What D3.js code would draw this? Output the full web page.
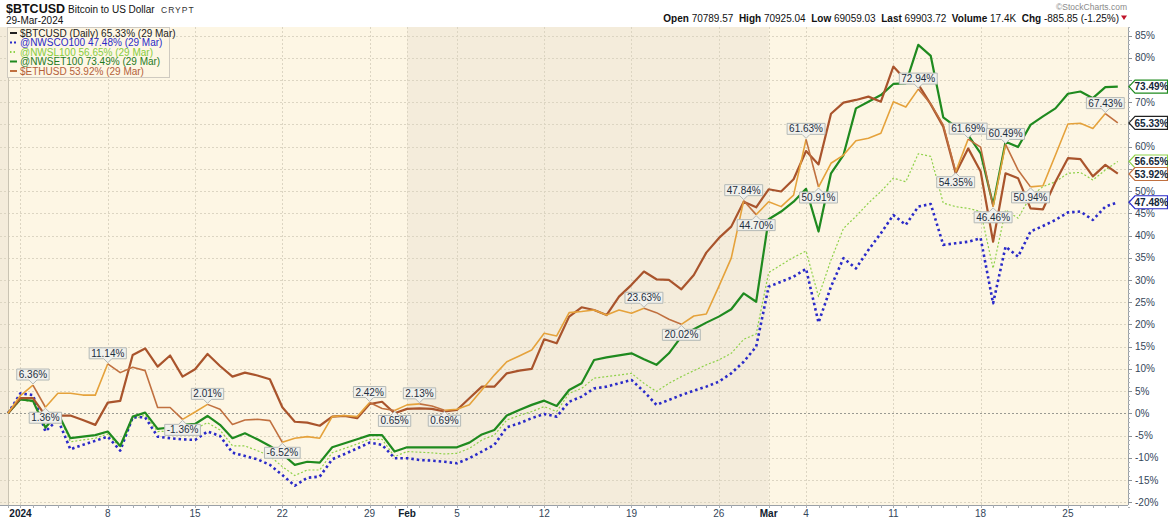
<!DOCTYPE html>
<html>
<head>
<meta charset="utf-8">
<script src="https://cdn.jsdelivr.net/npm/d3@7"></script>
<style>
  body { margin: 0; background: #ffffff; }
  svg { display: block; font-family: "Liberation Sans", Arial, sans-serif; }
</style>
</head>
<body>
<div id="d3chart"></div>
<script>
// ---- data (percent change since 31-Dec-2023, one value per calendar day) ----
const startDay = '2023-12-31'

const btcusd = [0, 4.0, 6.36, 1.36, 4.5, 4.5, 4.1, 4.1, 11.14, 9.15,
  10.35, 9.6, 1.3, 1.3, -1.36, 0.3, 2.01, 0.9, -2.5, -1.5,
  -1.35, -1.65, -6.52, -5.6, -5.25, -5.6, -0.75, -0.5, -0.75, 2.42,
  1.1, 0.65, 1.9, 2.13, 1.65, 0.69, 0.9, 1.9, 5.25, 8.6,
  11.6, 12.9, 14.25, 18.0, 17.4, 22.65, 22.9, 23.25, 22.1, 23.25,
  22.5, 23.63, 22.65, 21.15, 20.02, 21.9, 22.35, 28.5, 34.9, 47.84,
  44.70, 47.6, 46.5, 49.1, 61.63, 50.91, 56.25, 58.1, 61.3, 61.9,
  63.0, 70.1, 68.9, 72.94, 69.6, 64.9, 54.35, 61.69, 59.9, 46.46,
  60.49, 54.75, 50.94, 51.2, 58.1, 65.1, 65.25, 64.1, 67.43, 65.33]

const ethusd = [0, 3.4, 3.4, -0.5, -0.5, -0.5, -1.5, -2.6, 2.4, 2.8,
  13.1, 14.6, 10.5, 13.0, 8.25, 9.9, 13.35, 10.65, 8.25, 9.15,
  8.5, 7.65, 1.35, -1.9, -2.1, -2.8, -0.75, -0.6, -1.1, 2.1,
  2.6, 0.0, 1.0, 1.1, 1.0, 0.4, 0.75, 3.4, 6.0, 6.0,
  9.0, 9.6, 10.0, 16.65, 15.75, 21.75, 23.85, 23.25, 22.1, 26.25,
  28.9, 31.9, 30.15, 30.0, 27.9, 31.1, 36.15, 39.4, 42.0, 47.6,
  46.35, 50.4, 49.9, 52.65, 59.0, 56.0, 67.4, 69.9, 70.5, 71.25,
  70.1, 78.0, 75.0, 74.0, 69.5, 64.5, 54.0, 59.6, 54.4, 38.6,
  54.0, 52.9, 46.1, 45.9, 52.1, 57.4, 57.2, 53.3, 55.9, 53.92]

const nwset100 = [0, 3.15, 2.8, -3.2, 0, -5.6, -5.25, -4.9, -4.1, -7.35,
  -0.75, 0.15, -3.5, -3.2, -2.6, -2.4, -0.6, -2.6, -5.6, -4.5,
  -5.85, -7.35, -9.15, -11.6, -10.9, -11.1, -7.65, -6.75, -5.85, -4.9,
  -4.9, -8.6, -7.65, -7.65, -7.65, -7.65, -7.65, -6.6, -4.75, -3.75,
  -0.5, 0.75, 1.9, 2.85, 1.65, 5.25, 6.75, 12.0, 12.6, 13.05,
  13.5, 12.15, 10.9, 13.5, 17.25, 18.9, 20.4, 21.75, 23.4, 27.0,
  25.1, 43.65, 45.4, 47.6, 50.5, 40.9, 54.0, 58.1, 68.6, 70.1,
  71.6, 74.1, 74.25, 82.9, 80.4, 66.6, 64.5, 62.6, 58.5, 46.9,
  61.1, 59.9, 64.9, 66.8, 68.6, 71.9, 72.4, 70.9, 73.4, 73.49]

const nwsl100 = [0, 3.0, 2.6, -3.4, 0, -6.4, -6.0, -5.6, -4.65, -7.65,
  -1.35, -0.4, -4.1, -4.0, -3.9, -3.5, -2.1, -3.75, -7.3, -7.35,
  -8.4, -9.6, -12.0, -14.0, -12.75, -12.75, -8.85, -7.9, -6.9, -5.85,
  -5.85, -9.75, -8.6, -8.75, -8.9, -9.15, -9.0, -7.9, -6.0, -4.9,
  -1.5, -0.5, 0.4, 1.5, 0.4, 4.5, 5.6, 7.9, 8.25, 8.6,
  9.0, 6.75, 4.9, 6.75, 8.25, 9.6, 10.9, 12.0, 13.5, 16.65,
  17.85, 31.65, 33.4, 35.1, 36.5, 26.25, 34.5, 41.6, 44.3, 47.3,
  49.9, 52.9, 52.1, 58.4, 57.8, 47.3, 46.5, 46.1, 45.4, 32.6,
  45.75, 43.9, 48.8, 51.0, 52.1, 54.0, 54.2, 52.5, 54.75, 56.65]

const nwsco100 = [0, 4.5, 4.1, -4.1, -1.35, -8.1, -7.1, -6.2, -5.25, -8.4,
  -0.9, -0.9, -5.25, -5.6, -5.85, -6.0, -4.1, -5.1, -8.85, -9.6,
  -10.35, -11.6, -13.9, -16.3, -14.5, -14.25, -10.35, -9.15, -7.9, -6.6,
  -7.1, -10.1, -10.1, -10.5, -10.65, -10.9, -11.25, -10.1, -8.6, -7.1,
  -3.15, -2.25, -1.1, -0.15, -0.75, 2.6, 3.75, 5.6, 6.0, 6.75,
  7.5, 4.9, 1.9, 3.0, 4.1, 5.1, 6.0, 7.1, 9.0, 11.6,
  15.0, 28.5, 29.6, 30.75, 32.5, 20.4, 28.5, 34.9, 32.6, 36.75,
  40.5, 44.6, 42.4, 46.5, 47.1, 37.9, 38.25, 38.6, 39.4, 24.75,
  37.5, 35.25, 40.9, 42.15, 43.5, 45.2, 45.4, 43.5, 46.5, 47.48]

// swing points annotated on the BTC line (index into btcusd)
const swingIdx = [0, 2, 3, 8, 14, 16, 22, 29, 31, 33, 35, 51, 54, 59, 60, 64, 65, 73, 76, 77, 79, 80, 82, 88, 89]

const tickDays = ['2024-01-01', '2024-01-08', '2024-01-15', '2024-01-22', '2024-01-29', '2024-02-01',
  '2024-02-05', '2024-02-12', '2024-02-19', '2024-02-26', '2024-03-01', '2024-03-04',
  '2024-03-11', '2024-03-18', '2024-03-25']
const tickLabels = ['2024', '8', '15', '22', '29', 'Feb', '5', '12', '19', '26', 'Mar', '4', '11', '18', '25']
const boldTickLabels = ['2024', 'Feb', 'Mar']
const shadedMonths = [['2023-12-01', '2024-01-01'], ['2024-02-01', '2024-03-01']]
const yTicks = d3.range(-20, 86, 5)

const legendNames = ['$BTCUSD (Daily) 65.33% (29 Mar)', '@NWSCO100 47.48% (29 Mar)', '@NWSL100 56.65% (29 Mar)',
  '@NWSET100 73.49% (29 Mar)', '$ETHUSD 53.92% (29 Mar)']
const quoteLabels = ['Open', 'High', 'Low', 'Last', 'Volume', 'Chg']
const quoteValues = ['70789.57', '70925.04', '69059.03', '69903.72', '17.4K', '-885.85 (-1.25%)']

// ---- chart ----
const W = 1168
const H = 521
const plot = { left: 0, right: 1128, top: 27, bottom: 505 }
const parse = d3.utcParse('%Y-%m-%d')
const dates = btcusd.map((_, i) => d3.utcDay.offset(parse(startDay), i))

const x = d3.scaleUtc().domain([dates[0], dates[dates.length - 1]]).range([8, 1117.8])
const y = d3.scaleLinear().domain([-20, 85]).range([502.2, 35.5])

const colors = {
  btcUp: '#e5a23b', btcDown: '#c0703f', eth: '#a9542c',
  set: '#1f8a1f', sl: '#8fd14a', co: '#2a2ac8', text: '#1e2e3e', grid: '#dcd5c2'
}

const svg = d3.select('#d3chart').append('svg').attr('width', W).attr('height', H)

// background + month shading
svg.append('rect').attr('x', plot.left).attr('y', plot.top)
  .attr('width', plot.right - plot.left).attr('height', plot.bottom - plot.top).attr('fill', '#fdf6e4')
svg.selectAll('rect.band').data(shadedMonths).join('rect').attr('class', 'band')
  .attr('x', d => Math.max(plot.left, x(parse(d[0]))))
  .attr('y', plot.top)
  .attr('width', d => Math.min(x(parse(d[1])), plot.right) - Math.max(plot.left, x(parse(d[0]))) - (d[0] === '2023-12-01' ? 12.47 : 0))
  .attr('height', plot.bottom - plot.top)
  .attr('fill', '#f4ecdb')

// grid
const grid = svg.append('g')
grid.selectAll('line.h').data(yTicks).join('line')
  .attr('x1', plot.left).attr('x2', plot.right)
  .attr('y1', d => Math.round(y(d)) + 0.5).attr('y2', d => Math.round(y(d)) + 0.5)
  .attr('stroke', d => d === 0 ? '#9a9a92' : colors.grid)
  .attr('stroke-dasharray', '2,2')
grid.selectAll('line.v').data(tickDays).join('line')
  .attr('x1', d => Math.round(x(parse(d))) + 0.5).attr('x2', d => Math.round(x(parse(d))) + 0.5)
  .attr('y1', plot.top).attr('y2', plot.bottom)
  .attr('stroke', colors.grid).attr('stroke-dasharray', '2,2')
svg.append('line').attr('x1', 8.5).attr('x2', 8.5).attr('y1', plot.top).attr('y2', plot.bottom)
  .attr('stroke', '#c9c3b3')

// value tags data (needed to hide axis labels covered by a tag)
const tagData = [
  { v: nwset100[nwset100.length - 1], c: colors.set },
  { v: btcusd[btcusd.length - 1], c: '#222222' },
  { v: nwsl100[nwsl100.length - 1], c: colors.sl },
  { v: ethusd[ethusd.length - 1], c: colors.btcDown },
  { v: nwsco100[nwsco100.length - 1], c: colors.co }
].map(d => ({ ...d, y: y(d.v) })).sort((a, b) => a.y - b.y)
for (let i = 1; i < tagData.length; i++) {
  if (tagData[i].y - tagData[i - 1].y < 12.5) tagData[i].y = tagData[i - 1].y + 12.5
}
const covered = t => tagData.some(d => Math.abs(d.y - y(t)) < 9.5)

// right axis
const axisG = svg.append('g')
axisG.append('line').attr('x1', plot.right + 0.5).attr('x2', plot.right + 0.5)
  .attr('y1', plot.top).attr('y2', plot.bottom).attr('stroke', '#9aa0a6')
axisG.selectAll('line.minor').data(d3.range(-21, 88, 1)).join('line')
  .attr('x1', plot.right).attr('x2', plot.right + 2)
  .attr('y1', d => Math.round(y(d)) + 0.5).attr('y2', d => Math.round(y(d)) + 0.5)
  .attr('stroke', '#b0b4b8')
axisG.selectAll('line.major').data(yTicks).join('line')
  .attr('x1', plot.right).attr('x2', plot.right + 4)
  .attr('y1', d => Math.round(y(d)) + 0.5).attr('y2', d => Math.round(y(d)) + 0.5)
  .attr('stroke', '#8a9096')
axisG.selectAll('text').data(yTicks.filter(t => !covered(t))).join('text')
  .attr('x', plot.right + 7).attr('y', d => y(d)).attr('dy', '0.36em')
  .attr('font-size', 10).attr('fill', '#34465a')
  .text(d => d + '%')

// bottom axis
const bottomG = svg.append('g')
bottomG.append('line').attr('x1', plot.left).attr('x2', plot.right)
  .attr('y1', plot.bottom + 0.5).attr('y2', plot.bottom + 0.5).attr('stroke', '#9aa0a6')
bottomG.selectAll('line.day').data(dates).join('line')
  .attr('x1', d => Math.round(x(d)) + 0.5).attr('x2', d => Math.round(x(d)) + 0.5)
  .attr('y1', plot.bottom).attr('y2', plot.bottom + 3).attr('stroke', '#a8adb2')
bottomG.selectAll('text').data(tickDays).join('text')
  .attr('x', d => x(parse(d))).attr('y', 517)
  .attr('text-anchor', 'middle').attr('font-size', 10)
  .attr('font-weight', (d, i) => boldTickLabels.includes(tickLabels[i]) ? 'bold' : 'normal')
  .attr('fill', (d, i) => boldTickLabels.includes(tickLabels[i]) ? '#10202e' : '#34465a')
  .text((d, i) => tickLabels[i])

// series lines
const line = d3.line().x(d => x(d[0])).y(d => y(d[1]))
const pts = vals => vals.map((v, i) => [dates[i], v])
const lines = svg.append('g').attr('fill', 'none').attr('stroke-linejoin', 'round')
lines.append('path').attr('d', line(pts(nwsl100))).attr('stroke', colors.sl)
  .attr('stroke-width', 1.2).attr('stroke-dasharray', '2,2')
lines.append('path').attr('d', line(pts(nwsco100))).attr('stroke', colors.co)
  .attr('stroke-width', 2.6).attr('stroke-dasharray', '2.5,3')
lines.append('path').attr('d', line(pts(nwset100))).attr('stroke', colors.set).attr('stroke-width', 2.2)
lines.append('path').attr('d', line(pts(ethusd))).attr('stroke', colors.eth).attr('stroke-width', 2.2)
const btcPts = pts(btcusd)
d3.pairs(swingIdx).forEach(([a, b]) => {
  lines.append('path').attr('d', line(btcPts.slice(a, b + 1)))
    .attr('stroke', btcusd[b] >= btcusd[a] ? colors.btcUp : colors.btcDown)
    .attr('stroke-width', 1.6)
})

// swing labels on the BTC line
const labelG = svg.append('g').attr('font-size', 10)
swingIdx.slice(1, -1).forEach((idx, k) => {
  const prev = btcusd[swingIdx[k]]
  const v = btcusd[idx]
  const above = v > prev
  const px = x(dates[idx])
  const py = y(v)
  const g = labelG.append('g')
  const t = g.append('text').attr('text-anchor', 'middle').attr('fill', colors.text)
    .text(v.toFixed(2) + '%')
  const w = t.node().getComputedTextLength() + 4
  const h = 11
  const tip = above ? py - 1 : py + 1
  const edge = above ? py - 5 : py + 5
  const far = above ? edge - h : edge + h
  const l = px - w / 2
  const r = px + w / 2
  g.insert('path', 'text')
    .attr('d', `M${l},${edge}L${px - 4},${edge}L${px},${tip}L${px + 4},${edge}L${r},${edge}L${r},${far}L${l},${far}Z`)
    .attr('fill', '#f1f1ec').attr('stroke', '#b4b9b6')
  t.attr('x', px).attr('y', (edge + far) / 2).attr('dy', '0.35em')
})

// value tags on the right axis
const tagG = svg.append('g')
tagData.forEach(d => {
  const x0 = plot.right + 1
  tagG.append('path')
    .attr('d', `M${x0},${d.y}L${x0 + 6},${d.y - 6.5}L${x0 + 38.5},${d.y - 6.5}L${x0 + 38.5},${d.y + 6.5}L${x0 + 6},${d.y + 6.5}Z`)
    .attr('fill', '#ffffff').attr('stroke', d.c).attr('stroke-width', 1.2)
  tagG.append('text').attr('x', x0 + 22.5).attr('y', d.y).attr('dy', '0.36em')
    .attr('text-anchor', 'middle').attr('font-size', 10).attr('font-weight', 'bold')
    .attr('fill', '#14283a').text(d.v.toFixed(2) + '%')
})

// legend
const legendColors = ['#222222', colors.co, colors.sl, colors.set, colors.btcDown]
const legendText = ['#222222', '#2a2ac8', '#86cc3c', '#1f7a1f', '#b4603a']
const legendDash = [null, '2,2', '1.5,2', null, null]
const legendG = svg.append('g')
legendG.append('rect').attr('x', 7.5).attr('y', 27.5).attr('width', 162).attr('height', 50)
  .attr('fill', '#fdf6e4').attr('stroke', '#cfcac0')
legendNames.forEach((name, i) => {
  const cy = 33 + i * 9.5
  legendG.append('line').attr('x1', 10).attr('x2', 17).attr('y1', cy).attr('y2', cy)
    .attr('stroke', legendColors[i]).attr('stroke-width', 2).attr('stroke-dasharray', legendDash[i])
  legendG.append('text').attr('x', 20).attr('y', cy).attr('dy', '0.35em')
    .attr('font-size', 10).attr('fill', legendText[i]).text(name)
})

// header
const head = svg.append('g').attr('fill', '#111111')
head.append('text').attr('x', 6).attr('y', 13).attr('font-size', 12.5).attr('font-weight', 'bold').text('$BTCUSD')
head.append('text').attr('x', 68).attr('y', 13).attr('font-size', 10).text('Bitcoin to US Dollar')
head.append('text').attr('x', 161).attr('y', 13).attr('font-size', 8.5).attr('letter-spacing', 1)
  .attr('fill', '#333333').text('CRYPT')
head.append('text').attr('x', 6).attr('y', 23.5).attr('font-size', 10).text('29-Mar-2024')

svg.append('text').attr('x', 1127).attr('y', 10).attr('text-anchor', 'end')
  .attr('font-size', 8.5).attr('fill', '#8a8a8a').text('\u00a9StockCharts.com')
const quote = svg.append('text').attr('x', 1119).attr('y', 21.5).attr('text-anchor', 'end')
  .attr('font-size', 10).attr('fill', '#111111')
quoteLabels.forEach((lab, i) => {
  quote.append('tspan').attr('font-weight', 'bold').text((i ? '  ' : '') + lab + ' ')
  quote.append('tspan').text(quoteValues[i])
})
quote.attr('xml:space', 'preserve')
svg.append('path').attr('d', 'M1121,15.5L1127,15.5L1124,20Z').attr('fill', '#c0142a')
</script>
</body>
</html>
